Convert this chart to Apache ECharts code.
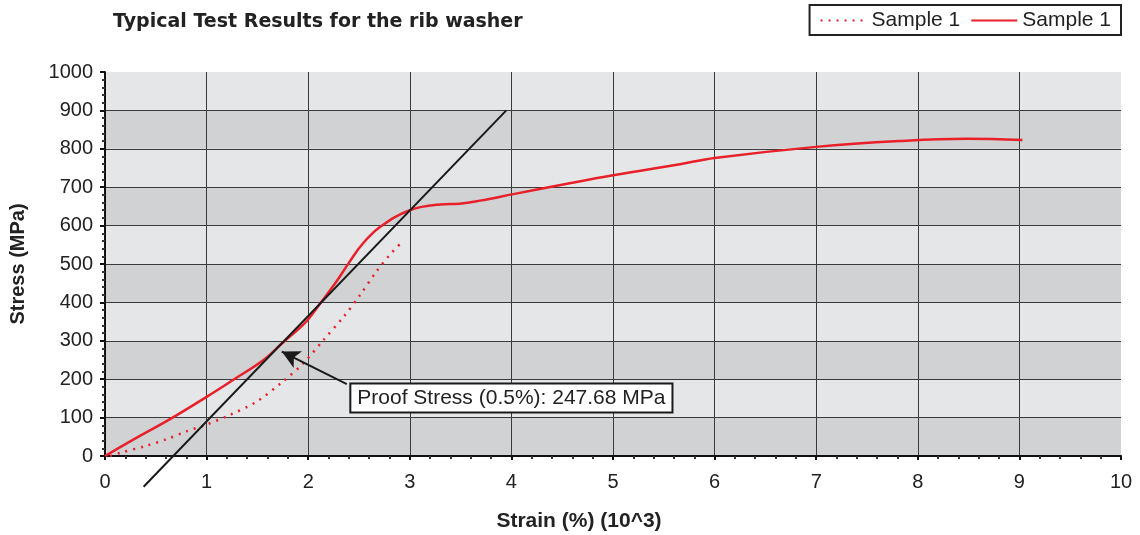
<!DOCTYPE html>
<html>
<head>
<meta charset="utf-8">
<script src="https://cdn.jsdelivr.net/npm/echarts@6/dist/echarts.min.js"></script>
<style>
  html, body { margin: 0; padding: 0; background: #fff; }
  #chart { width: 1140px; height: 535px; }
</style>
</head>
<body>
<div id="chart"></div>
<script>
// values
const solidX = [0, 0.3, 0.64, 1.0, 1.26, 1.56, 1.74, 1.98, 2.12, 2.28, 2.4, 2.54, 2.71, 3.0, 3.3, 3.49, 3.69, 4.02, 4.51, 5.0, 5.66, 6.0, 7.0, 7.82, 8.48, 9.03];
const solidY = [0, 46, 96, 154, 198, 250, 293, 350, 398, 455, 503, 554, 597, 640, 655, 657, 665, 682, 707, 731, 760, 776, 805, 820, 826, 823];
const dottedX = [0.05, 0.15, 0.41, 0.61, 0.80, 1.0, 1.23, 1.49, 1.75, 1.95, 2.15, 2.35, 2.51, 2.67, 2.8, 2.9];
const dottedY = [0, 8, 27, 44, 64, 82, 107, 141, 194, 241, 302, 363, 419, 480, 523, 551];
const offsetX = [0.38, 3.95];
const offsetY = [-80, 900];
const arrowFrom = [2.38, 187];
const arrowTo = [1.74, 272];
const labelAt = [4.0, 151];
const labelText = 'Proof Stress (0.5%): 247.68 MPa';
const xTicks = ['0', '1', '2', '3', '4', '5', '6', '7', '8', '9', '10'];

const red = '#e8202a';
const font = 'Liberation Sans';

function pairs(xs, ys) {
    let out = [];
    for (let i = 0; i < xs.length; i++) {
        out.push([xs[i], ys[i]]);
    }
    return out;
}

let chartDom = document.getElementById('chart');
let myChart = echarts.init(chartDom);

let option = {
    animation: false,
    textStyle: { fontFamily: font },
    title: {
        text: 'Typical Test Results for the rib washer',
        left: 108,
        top: 8,
        textStyle: { fontSize: 19, fontWeight: 'bold', color: '#222', fontFamily: 'DejaVu Sans' }
    },
    legend: {
        right: 19,
        top: 5,
        padding: [5, 10, 4, 10],
        borderColor: '#222',
        borderWidth: 2,
        itemWidth: 46,
        itemHeight: 14,
        itemGap: 10,
        itemStyle: { opacity: 0 },
        textStyle: { fontSize: 21, color: '#222', fontFamily: font },
        data: ['Sample 1 dotted', 'Sample 1 solid'],
        formatter: function () { return 'Sample 1'; }
    },
    grid: { left: 105, right: 19, top: 72, bottom: 79, outerBoundsMode: 'none' },
    xAxis: {
        type: 'value',
        min: 0,
        max: 10,
        interval: 1,
        name: 'Strain (%) (10^3)',
        nameLocation: 'middle',
        nameGap: 55,
        nameTextStyle: { fontSize: 21, fontWeight: 'bold', color: '#222', padding: [0, 68, 0, 0] },
        axisLine: { lineStyle: { color: '#111', width: 2 } },
        axisTick: { show: true, length: 4, lineStyle: { color: '#111', width: 2 } },
        minorTick: { show: true, splitNumber: 5, length: 3, lineStyle: { color: '#333', width: 2 } },
        axisLabel: {
            fontSize: 20, color: '#222', margin: 16,
            formatter: function (v) { return xTicks[Math.round(v)]; }
        },
        splitLine: { show: true, showMinLine: false, showMaxLine: false, lineStyle: { color: '#3a3a3a', width: 1 } }
    },
    yAxis: {
        type: 'value',
        min: 0,
        max: 1000,
        interval: 100,
        name: 'Stress (MPa)',
        nameLocation: 'middle',
        nameGap: 77,
        nameTextStyle: { fontSize: 20, fontWeight: 'bold', color: '#222' },
        axisLine: { show: true, lineStyle: { color: '#111', width: 2 } },
        axisTick: { show: true, length: 5, lineStyle: { color: '#111', width: 2 } },
        minorTick: { show: true, splitNumber: 5, length: 3, lineStyle: { color: '#333', width: 2 } },
        axisLabel: { fontSize: 20, color: '#222', margin: 12, formatter: function (v) { return String(v); } },
        splitLine: { show: true, showMinLine: false, showMaxLine: false, lineStyle: { color: '#3a3a3a', width: 1 } },
        splitArea: { show: true, areaStyle: { color: ['#d1d2d4', '#e5e6e8'] } }
    },
    series: [
        {
            name: 'Sample 1 dotted',
            type: 'line',
            symbol: 'none',
            smooth: 0.3,
            data: pairs(dottedX, dottedY),
            lineStyle: { color: red, width: 2.5, type: [2, 6] },
            itemStyle: { color: red },
            z: 3
        },
        {
            name: 'Sample 1 solid',
            type: 'line',
            symbol: 'none',
            smooth: 0.4,
            data: pairs(solidX, solidY),
            lineStyle: { color: red, width: 2.5 },
            itemStyle: { color: red },
            z: 3
        },
        {
            name: 'offset',
            type: 'line',
            symbol: 'none',
            clip: false,
            data: pairs(offsetX, offsetY),
            lineStyle: { color: '#1a1a1a', width: 2 },
            z: 4,
            markLine: {
                silent: true,
                symbol: ['none', 'arrow'],
                symbolSize: [14, 18],
                label: { show: false },
                lineStyle: { color: '#1a1a1a', width: 2, type: 'solid' },
                data: [[{ coord: arrowFrom }, { coord: arrowTo }]]
            }
        },
        {
            name: 'label',
            type: 'scatter',
            symbolSize: 0,
            data: [labelAt],
            z: 5,
            itemStyle: { opacity: 1 },
            label: {
                show: true,
                position: 'inside',
                formatter: labelText,
                fontSize: 21,
                color: '#222',
                backgroundColor: '#fff',
                borderColor: '#1a1a1a',
                borderWidth: 2,
                padding: [4, 6, 2, 6]
            }
        }
    ]
};
option && myChart.setOption(option);
</script>
</body>
</html>
